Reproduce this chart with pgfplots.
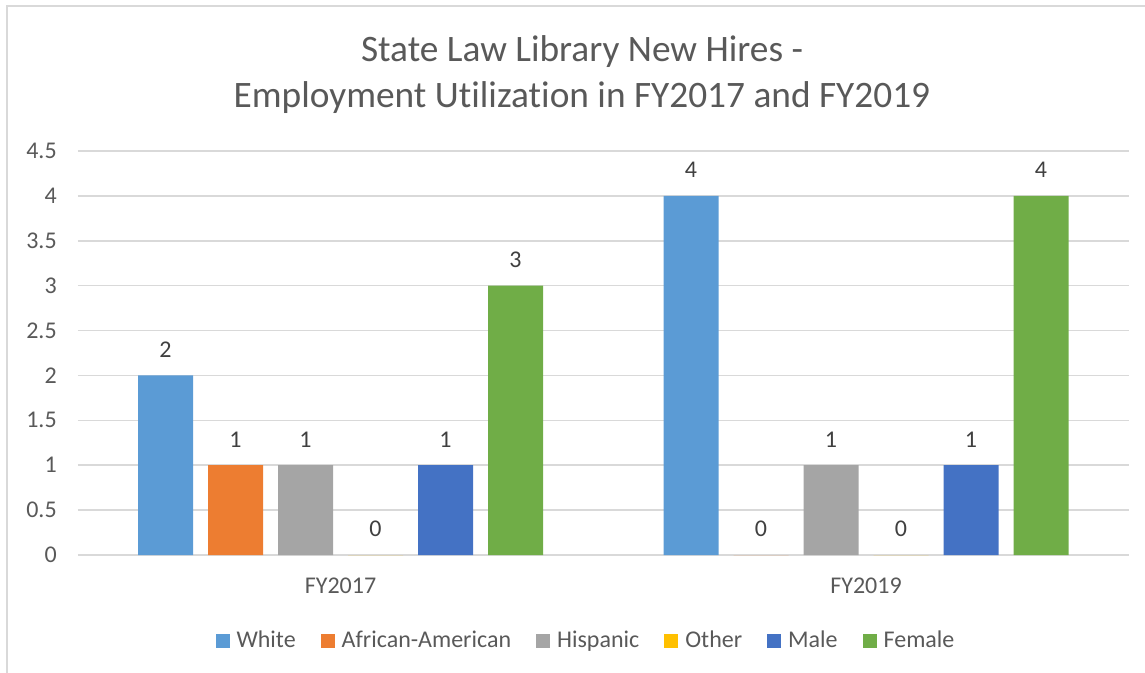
\documentclass[border=0pt]{standalone}
\usepackage{fontspec}
\setmainfont{Carlito}[Ligatures=NoCommon]
\usepackage{pgfplots}
\pgfplotsset{compat=1.18}
\definecolor{cWhite}{HTML}{5B9BD5}
\definecolor{cAfr}{HTML}{ED7D31}
\definecolor{cHisp}{HTML}{A5A5A5}
\definecolor{cOther}{HTML}{FFC000}
\definecolor{cMale}{HTML}{4472C4}
\definecolor{cFemale}{HTML}{70AD47}
\definecolor{txt}{HTML}{595959}
\definecolor{lbl}{HTML}{404040}
\definecolor{gridc}{HTML}{D9D9D9}
\pgfplotsset{sqleg/.style={legend image code/.code={\fill[##1] (0pt,-3.5pt) rectangle (7pt,3.5pt);}}}
\begin{document}
\begin{tikzpicture}
\useasboundingbox (0,0) rectangle (572.5pt,-336.5pt);
\draw[gridc, line width=1pt] (3.5pt,-336.5pt) -- (3.5pt,-3pt) -- (572.5pt,-3pt);
\node[anchor=base, inner sep=0pt, font=\fontsize{18.67}{22}\selectfont, text=txt] at (291pt,-31pt) {State Law Library New Hires -};
\node[anchor=base, inner sep=0pt, font=\fontsize{18.67}{22}\selectfont, text=txt] at (291pt,-54pt) {Employment Utilization in FY2017 and FY2019};
\begin{axis}[
  at={(38.875pt,-277.5pt)}, anchor=south west,
  scale only axis, width=525.5pt, height=202pt,
  ymin=0, ymax=4.5, xmin=-0.5, xmax=1.5,
  ybar=7.5pt, bar width=27.5pt,
  xtick={0,1}, xticklabels={FY2017,FY2019},
  ytick={0,0.5,1,1.5,2,2.5,3,3.5,4,4.5},
  yticklabels={0,0.5,1,1.5,2,2.5,3,3.5,4,4.5},
  major tick length=0pt,
  axis line style={draw=none},
  ymajorgrids, grid style={draw=gridc, line width=0.75pt},
  tick label style={font=\fontsize{12}{14}\selectfont, text=txt},
  yticklabel style={xshift=-7pt},
  xticklabel style={yshift=-8pt},
  /pgf/number format/assume math mode=true,
  nodes near coords,
  nodes near coords style={font=\fontsize{12}{14}\selectfont, text=lbl, yshift=5.5pt},
  legend columns=6,
  legend style={at={(0.4845,-0.2129)}, anchor=center, draw=none, fill=none,
    font=\fontsize{12}{14}\selectfont, text=txt,
    /tikz/every odd column/.append style={column sep=1.5pt},
    /tikz/every even column/.append style={column sep=10.5pt}},
]
\addplot[fill=cWhite, draw=none, sqleg] coordinates {(0,2) (1,4)};
\addplot[fill=cAfr, draw=none, sqleg] coordinates {(0,1) (1,0)};
\addplot[fill=cHisp, draw=none, sqleg] coordinates {(0,1) (1,1)};
\addplot[fill=cOther, draw=none, sqleg] coordinates {(0,0) (1,0)};
\addplot[fill=cMale, draw=none, sqleg] coordinates {(0,1) (1,1)};
\addplot[fill=cFemale, draw=none, sqleg] coordinates {(0,3) (1,4)};
\legend{White,African-American,Hispanic,Other,Male,Female}
\end{axis}
\end{tikzpicture}
\end{document}
